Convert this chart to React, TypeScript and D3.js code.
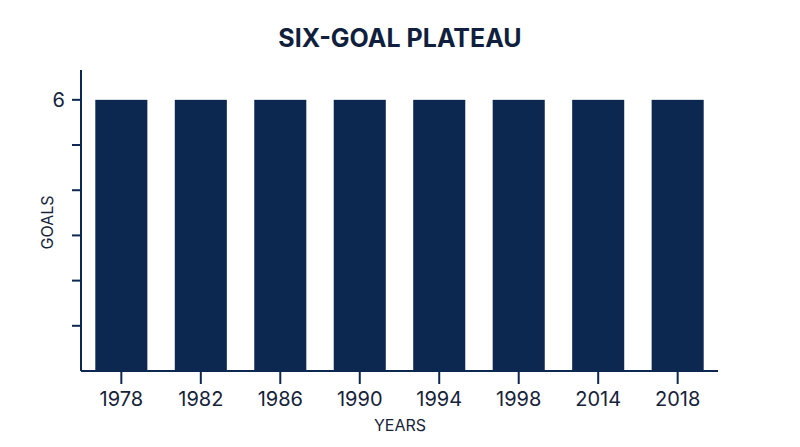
import React from "react";
import * as d3 from "d3";

const years = ["1978", "1982", "1986", "1990", "1994", "1998", "2014", "2018"];
const goals = [6, 6, 6, 6, 6, 6, 6, 6];
const yTicks = [1, 2, 3, 4, 5, 6];
const yLabeled = [6];

const navy = "#0c2850";
const ink = "#16223a";
const width = 800;
const height = 447;
const margin = { top: 70, right: 82, bottom: 76, left: 81 };

export default function App() {
  const x = d3
    .scaleBand<string>()
    .domain(years)
    .range([margin.left, width - margin.right])
    .paddingInner(0.345)
    .paddingOuter(0.18);

  const y = d3
    .scaleLinear()
    .domain([0, 6.66])
    .range([height - margin.bottom, margin.top]);

  const base = y(0);

  return (
    <svg
      width={width}
      height={height}
      style={{ position: "absolute", left: 0, top: 0, background: "#fff" }}
      fontFamily="Inter, 'Noto Sans', sans-serif"
    >
      <text
        x={400}
        y={47}
        textAnchor="middle"
        fontSize={25}
        fontWeight={700}
        fill="#0f1f3d"
      >
        SIX-GOAL PLATEAU
      </text>

      {/* bars */}
      {years.map((yr, i) => (
        <rect
          key={yr}
          x={x(yr)}
          y={y(goals[i])}
          width={x.bandwidth()}
          height={base - y(goals[i])}
          fill={navy}
        />
      ))}

      {/* y axis */}
      <line x1={margin.left} x2={margin.left} y1={margin.top} y2={base} stroke={navy} strokeWidth={2} />
      {yTicks.map((t) => (
        <g key={t} transform={`translate(${margin.left},${y(t)})`}>
          <line x1={-9} x2={0} stroke={navy} strokeWidth={2} />
          {yLabeled.includes(t) && (
            <text x={-16} dy="0.36em" textAnchor="end" fontSize={20} fill={ink}>
              {t}
            </text>
          )}
        </g>
      ))}
      <text
        transform={`translate(53,${(margin.top + base) / 2 + 2}) rotate(-90)`}
        textAnchor="middle"
        fontSize={16}
        fill={ink}
      >
        GOALS
      </text>

      {/* x axis */}
      <line x1={margin.left} x2={width - margin.right} y1={base} y2={base} stroke={navy} strokeWidth={2} />
      {years.map((yr) => (
        <g key={yr} transform={`translate(${(x(yr) ?? 0) + x.bandwidth() / 2},${base})`}>
          <line y1={0} y2={13} stroke={navy} strokeWidth={2} />
          <text y={35} textAnchor="middle" fontSize={20} fill={ink}>
            {yr}
          </text>
        </g>
      ))}
      <text x={400} y={431} textAnchor="middle" fontSize={16} fill={ink}>
        YEARS
      </text>
    </svg>
  );
}
